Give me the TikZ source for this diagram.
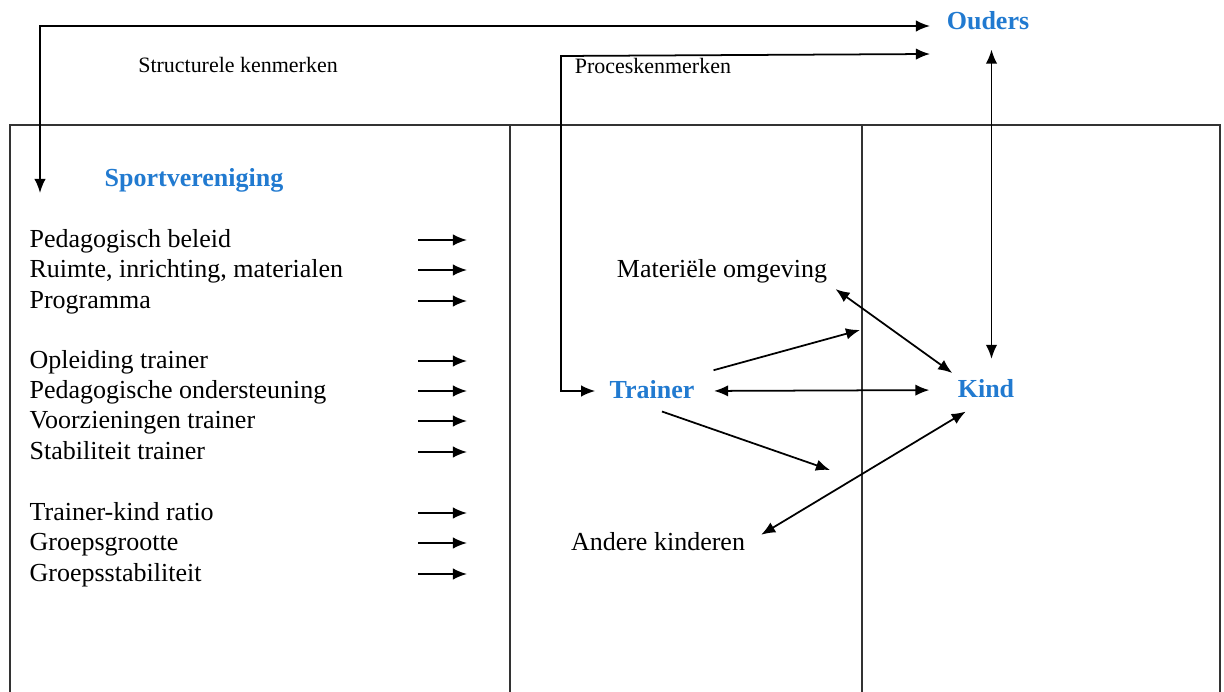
\documentclass[tikz,border=0pt]{standalone}
\usepackage{fontspec}
\setmainfont{Liberation Serif}
\usetikzlibrary{arrows.meta}
\definecolor{kopblauw}{RGB}{33,122,208}

\begin{document}
\begin{tikzpicture}[x=0.02cm,y=-0.02cm,
   >={Latex[length=8pt,width=6.5pt]},
   lijn/.style={line width=1.1pt,draw=black!80},
   pijl/.style={line width=1pt},
   item/.style={anchor=west,inner sep=3pt,text height=11pt,text depth=2pt,
    font=\fontsize{14.8}{17}\selectfont},
   kop/.style={inner sep=3pt,text height=11pt,text depth=2pt,text=kopblauw,
    font=\fontsize{14.8}{17}\selectfont\bfseries},
   tekst/.style={inner sep=3pt,text height=11pt,text depth=2pt,
    font=\fontsize{14.8}{17}\selectfont},
   klein/.style={inner sep=2pt,font=\fontsize{12.5}{15}\selectfont}
    ]
    \useasboundingbox (0,0) rectangle (1224,692);

    % Frame:
    \draw[lijn] (10,692) -- (10,125) -- (1220,125) -- (1220,692);
    \draw[lijn] (510,125) -- (510,692);
    \draw[lijn] (862,125) -- (862,692);

    % Headings:
    \node[kop] at (988,22) (ouders) {Ouders};
    \node[kop] at (194,179) (sport) {Sportvereniging};
    \node[kop] at (652,391) (trainer) {Trainer};
    \node[kop] at (986,390) (kind) {Kind};
    \node[klein] at (238,65) (struct) {Structurele kenmerken};
    \node[klein,anchor=west] at (571,66) (proces) {Proceskenmerken};

    % Structural features:
    \node[item] at (24,240) (k1) {Pedagogisch beleid};
    \node[item] at (24,270) (k2) {Ruimte, inrichting, materialen};
    \node[item] at (24,301) (k3) {Programma};
    \node[item] at (24,361) (k4) {Opleiding trainer};
    \node[item] at (24,391) (k5) {Pedagogische ondersteuning};
    \node[item] at (24,421) (k6) {Voorzieningen trainer};
    \node[item] at (24,452) (k7) {Stabiliteit trainer};
    \node[item] at (24,513) (k8) {Trainer-kind ratio};
    \node[item] at (24,543) (k9) {Groepsgrootte};
    \node[item] at (24,574) (k10) {Groepsstabiliteit};

    \foreach \n/\y in {1/240,2/270,3/301,4/361,5/391,6/421,7/452,8/513,9/543,10/574} {
      \coordinate (s\n) at (418,\y);
      \coordinate (e\n) at (467,\y);
      \draw[pijl,->] (s\n) -- (e\n);
    }

    % Environment:
    \node[tekst] at (722,270) (materieel) {Materiële omgeving};
    \node[tekst] at (658,543) (andere) {Andere kinderen};

    % loose ends
    \coordinate (sv) at (40,193);
    \coordinate (so) at (930,26);
    \coordinate (pk) at (561,56);
    \coordinate (po) at (930,54);
    \coordinate (m1) at (860,330);
    \coordinate (m2) at (830,470);

    % arrows
    \draw[pijl,<->] (sv) |- (so);
    \draw[pijl,<->,shorten <=5pt] (trainer.west) -| (pk) -- (po);
    \draw[pijl,<->,shorten <=6pt,shorten >=8pt] ([xshift=2pt]ouders.south) -- ([xshift=2pt]ouders.south |- kind.north);
    \draw[pijl,<->,shorten <=8pt,shorten >=13pt] (trainer.east) -- (kind.west);
    \draw[pijl,<->,shorten <=2pt] (materieel.south east) -- (kind.north west);
    \draw[pijl,->,shorten <=8pt] (trainer.north east) -- (m1);
    \draw[pijl,->,shorten <=6pt] (trainer.south) -- (m2);
    \draw[pijl,<->,shorten <=5pt] ([xshift=12pt]kind.south west) -- ([xshift=6pt,yshift=-5pt]andere.north east);

\end{tikzpicture}
\end{document}
